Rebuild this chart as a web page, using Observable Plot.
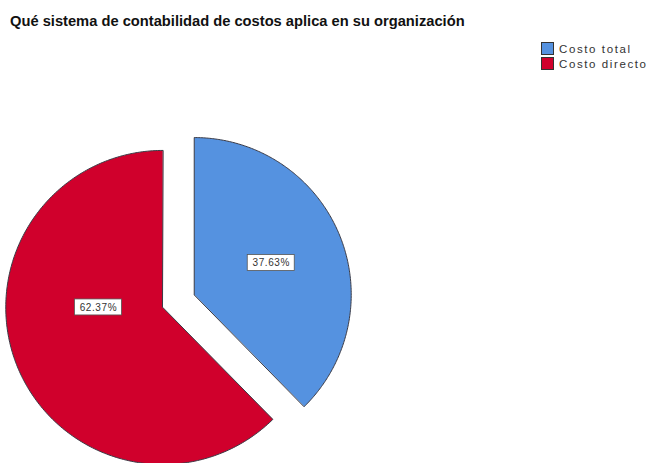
<!DOCTYPE html>
<html>
<head>
<meta charset="utf-8">
<script src="https://cdn.jsdelivr.net/npm/d3@7"></script>
<script src="https://cdn.jsdelivr.net/npm/@observablehq/plot@0.6"></script>
<style>
  html, body { margin: 0; padding: 0; background: #fff; }
  #wrap { position: relative; width: 650px; height: 463px; overflow: hidden; font-family: "Liberation Sans", Arial, sans-serif; }
  #title { position: absolute; left: 10px; top: 13px; font-size: 14.7px; font-weight: bold; color: #111; white-space: nowrap; }
  #legend { position: absolute; left: 541px; top: 41px; font-size: 11.5px; color: #333; letter-spacing: 1.6px; }
  .item { display: flex; align-items: center; height: 15px; }
  .sw { width: 13px; height: 13px; border: 1px solid #333; box-sizing: border-box; margin-right: 5px; }
  #chart { position: absolute; left: 0; top: 0; }
  .pie text { letter-spacing: 0.6px; }
</style>
</head>
<body>
<div id="wrap">
  <div id="chart"></div>
  <div id="title"></div>
  <div id="legend"></div>
</div>
<script>
// ---- data ----
const titleText = "Qué sistema de contabilidad de costos aplica en su organización";
const categories = ["Costo total", "Costo directo"];
const percents = [37.63, 62.37];
const colors = ["#5592e0", "#d0002c"];

// ---- layout (pixels) ----
const W = 650, H = 463;
const cx = 178, cy = 300.5, R = 157, explodePx = 17;
const labelLayout = [
  {frac: 0.53, angleDeg: null},   // null -> mid angle
  {frac: 0.41, angleDeg: 270}
];

// scales in radius units
const xDomain = [(0 - cx) / R, (W - cx) / R];
const yDomain = [(cy - H) / R, (cy - 0) / R];
const explode = explodePx / R;

const arcs = d3.pie().sort(null).value(d => d)(percents);

const slices = arcs.map((a, i) => {
  const mid = (a.startAngle + a.endAngle) / 2;
  const ox = explode * Math.sin(mid), oy = explode * Math.cos(mid);
  const pts = [{x: ox, y: oy}];
  const n = 240;
  for (let k = 0; k <= n; k++) {
    const t = a.startAngle + (a.endAngle - a.startAngle) * k / n;
    pts.push({x: ox + Math.sin(t), y: oy + Math.cos(t)});
  }
  const la = labelLayout[i].angleDeg == null ? mid : labelLayout[i].angleDeg * Math.PI / 180;
  const f = labelLayout[i].frac;
  return {
    pts,
    color: colors[i],
    label: {x: ox + f * Math.sin(la), y: oy + f * Math.cos(la), text: percents[i].toFixed(2) + "%"}
  };
});

const labels = slices.map(s => s.label);

const marks = [];
slices.forEach(s => {
  marks.push(Plot.line(s.pts, {x: "x", y: "y", fill: s.color, stroke: "#3b3b46", strokeWidth: 1, curve: "linear-closed"}));
});
marks.push(Plot.rect(labels, {x1: "x", x2: "x", y1: "y", y2: "y", fill: "white", stroke: "#555", strokeWidth: 0.8,
  insetLeft: -23.5, insetRight: -23.5, insetTop: -8, insetBottom: -8}));
marks.push(Plot.text(labels, {x: "x", y: "y", text: "text", fontSize: 10, fill: "#333", fontFamily: "Liberation Sans, Arial, sans-serif"}));

const svg = Plot.plot({
  width: W, height: H,
  margin: 0,
  className: "pie",
  x: {domain: xDomain, axis: null},
  y: {domain: yDomain, axis: null},
  marks
});
document.getElementById("chart").appendChild(svg);

document.getElementById("title").textContent = titleText;
const legend = document.getElementById("legend");
categories.forEach((c, i) => {
  const it = document.createElement("div");
  it.className = "item";
  const sw = document.createElement("div");
  sw.className = "sw";
  sw.style.background = colors[i];
  const tx = document.createElement("span");
  tx.textContent = c;
  it.appendChild(sw); it.appendChild(tx);
  legend.appendChild(it);
});
</script>
</body>
</html>
